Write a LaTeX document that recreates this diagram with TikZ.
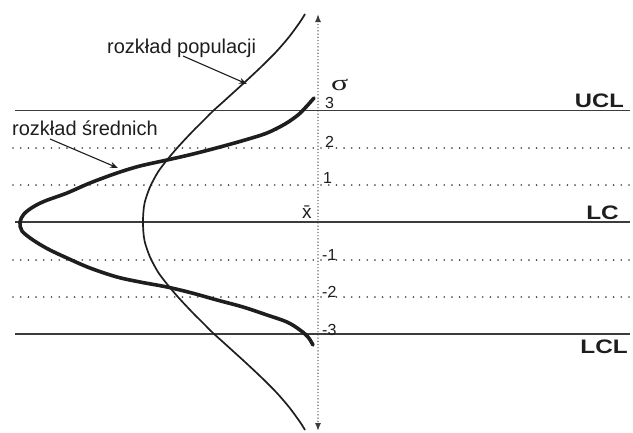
\documentclass[tikz,border=0pt]{standalone}
\usepackage{fontspec}
\setmainfont{Liberation Sans}
\newfontfamily\greekfont{Liberation Serif}
\usepackage{graphicx}
\usetikzlibrary{arrows.meta}
\definecolor{ink}{RGB}{30,30,30}
\definecolor{linec}{RGB}{60,60,60}
\begin{document}
\begin{tikzpicture}[x=1pt,y=-1pt,
  solidline/.style={draw=linec, line width=1.3pt},
  dotline/.style={draw=linec, line width=1.8pt, line cap=round, dash pattern=on 0pt off 7.7pt},
  axisline/.style={draw=linec, line width=1.4pt, line cap=round, dash pattern=on 0pt off 3.2pt},
  popcurve/.style={draw=ink, line width=1.7pt},
  meancurve/.style={draw=ink, line width=3.6pt, line cap=round},
  pointer/.style={draw=ink, line width=1.1pt, -{Stealth[length=8pt,width=6pt]}},
  lab/.style={inner sep=0pt, font=\fontsize{20}{22}\selectfont, text=ink},
  lim/.style={inner sep=0pt, font=\fontsize{19.5}{22}\selectfont\bfseries, text=ink},
  num/.style={inner sep=0pt, font=\fontsize{16}{18}\selectfont, text=ink},
]
\useasboundingbox (0,0) rectangle (633,432);
\fill[white] (0,0) rectangle (633,432);

% solid control lines
\coordinate (uclL) at (15,110.5);  \coordinate (uclR) at (630,110.5);
\coordinate (lcL)  at (15,222);    \coordinate (lcR)  at (630,222);
\coordinate (lclL) at (15,334);    \coordinate (lclR) at (630,334);
\draw[solidline] (uclL) -- (uclR);
\draw[solidline] (lcL) -- (lcR);
\draw[solidline] (lclL) -- (lclR);

% dotted sigma lines
\foreach \yy/\nn in {148/p2, 185/p1, 260/m1, 297/m2}{
  \coordinate (\nn L) at (13,\yy);
  \coordinate (\nn R) at (633,\yy);
  \draw[dotline] (\nn L) -- (\nn R);
}

% vertical axis
\coordinate (axT) at (318,14);
\coordinate (axB) at (318,431);
\draw[axisline, {Latex[length=8pt,width=6pt]}-{Latex[length=8pt,width=6pt]}] (axT) -- (axB);

% population distribution (thin)
\draw[popcurve] plot[smooth, tension=0.5] coordinates {
 (305,14) (300,22) (289,37) (276,52) (261,67) (245,82) (234,92) (223,102)
 (213,111) (202,122) (192,132) (178,147) (167,160) (158,172) (150,187)
 (144.8,202) (143.4,212) (143,222) (143.4,232) (144.8,242) (150,257)
 (158,272) (167,284) (178,297) (192,312) (202,322) (213,333) (223,342)
 (234,352) (245,362) (261,377) (276,392) (289,407) (300,422) (305,430)};

% distribution of means (bold)
\draw[meancurve] plot[smooth, tension=0.55] coordinates {
 (314,98) (306,107) (298,115) (285,124) (267,133) (245,140) (220,147)
 (193,154) (167,160) (140,166) (117,173) (90,183) (67,193) (45,201)
 (33,207) (24,214) (20,222) (22,231) (33,240) (48,249) (67,258) (90,268)
 (117,277) (140,282) (167,287) (192,293) (217,300) (243,307) (267,315)
 (287,322) (300,330) (308,337) (313,345)};

% labels and pointers
\node[lab, anchor=base west] (pop) at (107,53) {rozkład populacji};
\node[lab, anchor=base west] (mean) at (12,135) {rozkład średnich};
\coordinate (popS) at (183,56);   \coordinate (popE) at (247,84);
\coordinate (meanS) at (50,139);  \coordinate (meanE) at (118,168);
\draw[pointer] (popS) -- (popE);
\draw[pointer] (meanS) -- (meanE);

% limit labels
\node[lim, anchor=base east] (ucl) at (624,107) {\scalebox{1.22}[1]{UCL}};
\node[lim, anchor=base east] (lc)  at (619,219) {\scalebox{1.25}[1]{LC}};
\node[lim, anchor=base east] (lcl) at (628,353) {\scalebox{1.25}[1]{LCL}};

% axis numbers
\node[inner sep=0pt, anchor=base west, text=ink] (sig) at (331,90)
  {\fontsize{22}{24}\selectfont\greekfont\scalebox{1.45}[1]{σ}};
\node[num, anchor=base west] (n3) at (325,108) {3};
\node[num, anchor=base west] (n2) at (325,147) {2};
\node[num, anchor=base west] (n1) at (323,183) {1};
\node[inner sep=0pt, anchor=base west, text=ink, font=\fontsize{19}{20}\selectfont] (xb) at (302,218) {\=x};
\node[num, anchor=base west] (m1) at (322,260) {-1};
\node[num, anchor=base west] (m2) at (322,297) {-2};
\node[num, anchor=base west] (m3) at (322,335) {-3};
\end{tikzpicture}
\end{document}
